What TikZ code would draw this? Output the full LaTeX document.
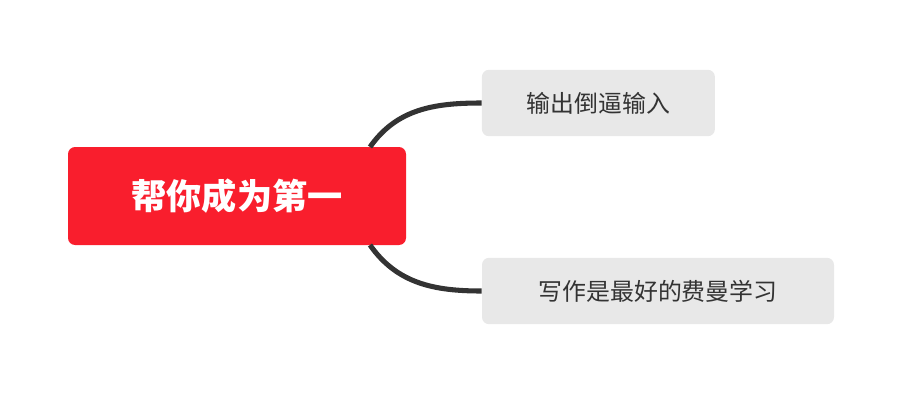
\documentclass[tikz,border=0pt]{standalone}
\usepackage{fontspec}
\newfontfamily\cjk{Noto Sans CJK SC}
\usetikzlibrary{positioning}
\definecolor{rootred}{HTML}{F91E2D}
\definecolor{leafgray}{HTML}{E8E8E8}
\definecolor{linegray}{HTML}{333333}

\begin{document}
\begin{tikzpicture}[
    every node/.style={rounded corners=5pt, inner sep=0pt, align=center},
    rootbox/.style={fill=rootred, text=white, minimum width=8.45cm, minimum height=2.45cm, font=\cjk\bfseries\fontsize{25}{30}\selectfont},
    leafbox/.style={fill=leafgray, text=linegray, minimum height=1.66cm, font=\cjk\fontsize{17}{20}\selectfont},
    link/.style={draw=linegray, line width=3.6pt}
  ]
    \useasboundingbox (0,0) rectangle (22.55,10.175);
    \node[rootbox] (root) at (5.925,5.275) {帮你成为第一};
    \node[leafbox, minimum width=5.825cm] (leaf1) at (14.96,7.6) {输出倒逼输入};
    \node[leafbox, minimum width=8.8cm] (leaf2) at (16.45,2.9) {写作是最好的费曼学习};

    \coordinate (top) at (9.25,6.5);
    \coordinate (bot) at (9.25,4.05);
    \draw[link] (top) to[out=55,in=180] (leaf1.west);
    \draw[link] (bot) to[out=-55,in=180] (leaf2.west);
  \end{tikzpicture}
\end{document}
